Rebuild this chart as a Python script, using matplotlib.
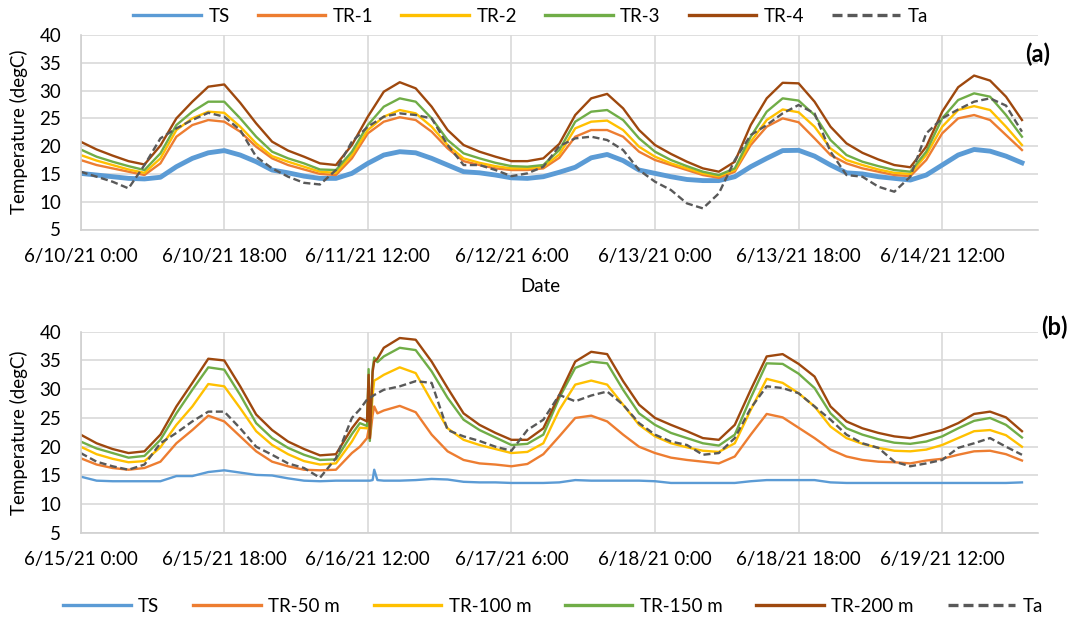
import matplotlib.pyplot as plt
from matplotlib.lines import Line2D

plt.rcParams['font.family'] = ['Lato', 'DejaVu Sans']

# ---- panel (a): 6/10/21 0:00 .. 6/15/21 0:00, hours since start ----
hours_a = list(range(0, 120, 2))

ts_a = [15.1, 14.8, 14.5, 14.2, 14.1, 14.4, 16.3, 17.8, 18.8, 19.2, 18.4, 17.2, 15.7, 15.2, 14.6, 14.2,
        14.2, 15.1, 16.9, 18.4, 19.0, 18.8, 17.8, 16.6, 15.4, 15.2, 14.8, 14.3, 14.2, 14.5, 15.3,
        16.2, 17.9, 18.5, 17.4, 15.7, 15.1, 14.5, 14.0, 13.8, 13.8, 14.5, 16.3, 17.8, 19.2, 19.25,
        18.2, 16.6, 15.2, 15.0, 14.5, 14.2, 13.9, 14.8, 16.6, 18.4, 19.4, 19.1, 18.2, 17.0]
tr1_a = [17.5, 16.6, 16.0, 15.4, 14.8, 16.9, 21.7, 23.8, 24.7, 24.4, 22.6, 19.9, 17.8, 16.6, 15.8, 15.0,
         14.8, 17.8, 22.3, 24.4, 25.2, 24.7, 22.6, 19.6, 17.3, 16.6, 16.0, 15.7, 15.7, 16.0, 17.9,
         21.7, 22.9, 22.9, 21.7, 19.0, 17.5, 16.6, 15.7, 14.8, 14.3, 15.4, 20.2, 23.5, 25.0, 24.3,
         21.4, 18.4, 16.9, 16.0, 15.4, 14.8, 14.6, 17.5, 22.3, 25.0, 25.6, 24.7, 22.0, 19.3]
tr2_a = [18.4, 17.4, 16.6, 15.8, 15.2, 17.8, 22.9, 25.0, 26.2, 26.0, 23.5, 20.5, 18.2, 17.2, 16.3, 15.4,
         15.2, 18.4, 22.9, 25.3, 26.5, 25.9, 23.5, 20.2, 17.8, 17.0, 16.4, 16.0, 16.0, 16.3, 18.5,
         23.2, 24.4, 24.6, 22.9, 19.9, 18.1, 16.9, 16.0, 15.1, 14.6, 15.7, 20.8, 24.7, 26.6, 26.1,
         23.5, 19.6, 17.5, 16.6, 15.8, 15.2, 15.0, 18.4, 23.5, 26.5, 27.2, 26.5, 23.5, 20.2]
tr3_a = [19.4, 18.1, 17.2, 16.4, 15.7, 18.7, 23.8, 26.2, 28.0, 28.0, 25.0, 21.7, 19.0, 17.8, 16.9, 15.8,
         15.7, 19.0, 23.8, 27.1, 28.6, 28.0, 25.0, 21.1, 18.7, 17.8, 17.0, 16.4, 16.3, 16.6, 19.3,
         24.4, 26.2, 26.5, 24.7, 21.4, 19.0, 17.5, 16.4, 15.4, 14.8, 16.0, 21.7, 26.2, 28.6, 28.2,
         25.6, 21.1, 18.4, 17.2, 16.4, 15.7, 15.4, 19.0, 25.0, 28.3, 29.5, 28.9, 25.6, 21.7]
tr4_a = [20.8, 19.4, 18.3, 17.3, 16.7, 20.1, 25.0, 28.0, 30.7, 31.1, 27.8, 24.1, 20.8, 19.2, 18.1, 16.9,
         16.6, 20.2, 25.3, 29.8, 31.5, 30.4, 27.1, 22.9, 20.2, 19.0, 18.1, 17.3, 17.3, 17.8, 20.4,
         25.6, 28.6, 29.4, 26.8, 22.9, 20.2, 18.6, 17.2, 16.0, 15.4, 17.2, 23.8, 28.6, 31.4, 31.3,
         28.0, 23.5, 20.5, 18.8, 17.6, 16.6, 16.2, 19.9, 26.2, 30.6, 32.7, 31.8, 28.9, 24.7]
ta_a = [15.4, 14.5, 13.6, 12.4, 16.6, 21.4, 23.2, 24.7, 26.0, 25.3, 22.9, 18.1, 16.0, 14.5, 13.4, 13.1,
        15.7, 20.8, 23.5, 25.3, 25.9, 25.6, 25.0, 20.2, 16.6, 16.6, 15.7, 14.6, 15.1, 16.3, 20.0,
        21.4, 21.7, 21.1, 19.3, 15.7, 13.6, 12.1, 9.7, 8.8, 11.5, 17.5, 22.0, 23.8, 25.9, 27.4,
        25.9, 19.0, 14.8, 14.5, 12.7, 11.8, 14.5, 22.3, 25.0, 26.6, 28.0, 28.6, 27.3, 22.6]

# ---- panel (b): 6/15/21 0:00 .. 6/20/21 0:00 ----
hours_b = [0, 2, 4, 6, 8, 10, 12, 14, 16, 18, 20, 22, 24, 26, 28, 30, 32, 34,
           35, 35.9, 36.1, 36.25, 36.6, 36.8, 37.2,
           38, 40, 42, 44, 46, 48, 50, 52, 54, 56, 58,
           60, 62, 64, 66, 68, 70, 72, 74, 76, 78,
           80, 82, 84, 86, 88, 90, 92, 94, 96, 98,
           100, 102, 104, 106, 108, 110, 112, 114, 116, 118]

ts_b = [14.8, 14.1, 14.0, 14.0, 14.0, 14.0, 14.9, 14.9, 15.6, 15.9, 15.5, 15.1, 15.0, 14.5, 14.1, 14.0, 14.1, 14.1,
        14.1, 14.1, 14.1, 14.1, 14.2, 16.0, 14.2,
        14.1, 14.1, 14.2, 14.4, 14.3, 13.9, 13.8, 13.8, 13.7, 13.7, 13.7,
        13.8, 14.2, 14.1, 14.1, 14.1, 14.1, 14.0, 13.7, 13.7, 13.7,
        13.7, 13.7, 14.0, 14.2, 14.2, 14.2, 14.2, 13.8, 13.7, 13.7,
        13.7, 13.7, 13.7, 13.7, 13.7, 13.7, 13.7, 13.7, 13.7, 13.8]
tr50_b = [18.0, 16.9, 16.3, 16.0, 16.3, 17.4, 20.6, 22.9, 25.4, 24.4, 21.8, 19.2, 17.4, 16.6, 16.0, 15.9, 16.0, 18.9,
          20.0, 21.5, 23.0, 21.3, 25.5, 27.0, 25.8,
          26.3, 27.1, 26.0, 22.1, 19.2, 17.7, 17.1, 16.9, 16.6, 17.0, 18.7,
          21.8, 25.0, 25.4, 24.4, 22.1, 20.0, 18.9, 18.1, 17.7, 17.4,
          17.1, 18.3, 22.1, 25.7, 25.1, 23.3, 21.5, 19.5, 18.3, 17.7,
          17.4, 17.3, 17.1, 17.6, 17.9, 18.6, 19.2, 19.3, 18.7, 17.6]
tr100_b = [20.0, 18.7, 17.9, 17.3, 17.5, 19.9, 23.8, 27.0, 30.9, 30.5, 26.7, 22.7, 20.3, 18.7, 17.5, 16.9, 17.1, 20.9,
           23.3, 23.2, 29.5, 22.0, 29.0, 31.5, 31.8,
           32.5, 33.8, 32.8, 27.9, 23.2, 21.2, 20.3, 19.6, 18.9, 19.1, 20.6,
           26.4, 30.8, 31.5, 30.8, 27.3, 23.8, 21.8, 20.6, 19.9, 19.3,
           19.1, 20.6, 26.4, 31.8, 31.1, 29.3, 27.0, 23.5, 21.5, 20.5,
           19.8, 19.3, 19.2, 19.5, 20.3, 21.5, 22.7, 22.9, 22.0, 20.0]
tr150_b = [20.9, 19.7, 18.9, 18.1, 18.4, 21.2, 25.8, 29.9, 33.8, 33.4, 29.0, 24.1, 21.5, 19.8, 18.6, 17.7, 17.8, 22.2,
           24.1, 23.6, 33.5, 21.0, 33.5, 35.5, 34.7,
           35.7, 37.2, 36.8, 33.1, 28.5, 24.7, 22.9, 21.6, 20.3, 20.5, 22.1,
           28.5, 33.7, 34.8, 34.5, 29.9, 25.8, 23.8, 22.4, 21.5, 20.6,
           20.2, 22.1, 28.5, 34.5, 34.4, 32.7, 30.2, 25.8, 23.2, 22.1,
           21.3, 20.7, 20.5, 20.9, 21.8, 23.2, 24.5, 25.0, 23.8, 21.6]
tr200_b = [22.1, 20.6, 19.6, 18.9, 19.2, 22.1, 27.0, 31.1, 35.3, 35.0, 30.5, 25.6, 22.9, 20.9, 19.6, 18.5, 18.7, 23.2,
           25.0, 24.4, 32.5, 21.5, 33.0, 34.8, 35.3,
           37.2, 38.9, 38.6, 34.8, 30.2, 25.8, 23.8, 22.4, 21.2, 21.2, 23.2,
           29.0, 34.8, 36.5, 36.1, 31.4, 27.3, 25.0, 23.8, 22.7, 21.5,
           21.2, 23.8, 29.9, 35.7, 36.1, 34.4, 32.2, 27.0, 24.4, 23.2,
           22.4, 21.8, 21.5, 22.2, 22.9, 24.1, 25.7, 26.1, 25.1, 22.7]
ta_b = [18.9, 17.4, 16.6, 16.0, 16.9, 20.6, 22.4, 24.4, 26.1, 26.1, 23.2, 20.0, 18.6, 17.1, 16.3, 14.6, 18.0, 25.0,
        26.5, 28.2, 28.3, 28.5, 28.8, 29.0, 29.3,
        29.9, 30.5, 31.4, 31.1, 22.9, 21.8, 21.0, 20.0, 19.3, 22.9, 24.7,
        29.0, 27.9, 28.9, 29.6, 27.3, 24.1, 22.1, 20.9, 20.3, 18.6,
        18.9, 21.5, 26.7, 30.5, 30.2, 29.3, 27.0, 24.7, 22.1, 20.6,
        19.8, 17.4, 16.6, 17.1, 17.7, 19.8, 20.6, 21.5, 20.0, 18.6]

tick_hours = [0, 18, 36, 54, 72, 90, 108]
ticklabels_a = ['6/10/21 0:00', '6/10/21 18:00', '6/11/21 12:00', '6/12/21 6:00',
                '6/13/21 0:00', '6/13/21 18:00', '6/14/21 12:00']
ticklabels_b = ['6/15/21 0:00', '6/15/21 18:00', '6/16/21 12:00', '6/17/21 6:00',
                '6/18/21 0:00', '6/18/21 18:00', '6/19/21 12:00']
names_a = ['TS', 'TR-1', 'TR-2', 'TR-3', 'TR-4', 'Ta']
names_b = ['TS', 'TR-50 m', 'TR-100 m', 'TR-150 m', 'TR-200 m', 'Ta']
colors = ['#5B9BD5', '#ED7D31', '#FFC000', '#70AD47', '#9E480E', '#595959']


def style_axes(ax, labels):
    ax.set_xlim(0, 120)
    ax.set_ylim(5, 40)
    ax.set_xticks(tick_hours)
    ax.set_xticklabels(labels)
    ax.set_yticks(range(5, 41, 5))
    ax.grid(color='#D9D9D9', lw=1.2)
    ax.set_axisbelow(True)
    ax.spines['top'].set_visible(False)
    ax.spines['right'].set_visible(False)
    ax.spines['left'].set_color('#D0D0D0')
    ax.spines['bottom'].set_color('#D0D0D0')
    ax.spines['left'].set_linewidth(1.2)
    ax.spines['bottom'].set_linewidth(1.2)
    ax.tick_params(length=0, labelsize=13.5, colors='#000000')
    ax.tick_params(axis='y', pad=14)
    ax.tick_params(axis='x', pad=13)


fig = plt.figure(figsize=(10.74, 6.25), dpi=100)
ax1 = fig.add_axes([0.0751, 0.6328, 0.8913, 0.3112])
ax2 = fig.add_axes([0.0751, 0.1472, 0.8913, 0.3221])

series_a = [ts_a, tr1_a, tr2_a, tr3_a, tr4_a, ta_a]
series_b = [ts_b, tr50_b, tr100_b, tr150_b, tr200_b, ta_b]

for i, (vals, name) in enumerate(zip(series_a, names_a)):
    if name == 'Ta':
        ax1.plot(hours_a, vals, color=colors[i], lw=1.7, ls=(0, (3, 1.5)), label=name)
    else:
        ax1.plot(hours_a, vals, color=colors[i], lw=3.5 if name == 'TS' else 1.7, label=name)

for i, (vals, name) in enumerate(zip(series_b, names_b)):
    if name == 'Ta':
        ax2.plot(hours_b, vals, color=colors[i], lw=1.7, ls=(0, (3, 1.5)), label=name)
    else:
        ax2.plot(hours_b, vals, color=colors[i], lw=1.7, label=name)

style_axes(ax1, ticklabels_a)
style_axes(ax2, ticklabels_b)

fig.text(0.503, 0.542, 'Date', ha='center', va='center', fontsize=13.5)
fig.text(0.018, 0.789, 'Temperature (degC)', rotation=90, ha='center', va='center', fontsize=13.5)
fig.text(0.018, 0.308, 'Temperature (degC)', rotation=90, ha='center', va='center', fontsize=13.5)
fig.text(0.966, 0.913, '(a)', ha='center', va='center', fontsize=17, fontweight='bold')
fig.text(0.982, 0.477, '(b)', ha='center', va='center', fontsize=17, fontweight='bold')

handles_a = [Line2D([], [], color=colors[i], lw=2.4, ls=(0, (3, 1.5)) if n == 'Ta' else '-')
             for i, n in enumerate(names_a)]
handles_b = [Line2D([], [], color=colors[i], lw=2.4, ls=(0, (3, 1.5)) if n == 'Ta' else '-')
             for i, n in enumerate(names_b)]
fig.legend(handles_a, names_a, loc='center', bbox_to_anchor=(0.494, 0.974), ncol=6,
           frameon=False, fontsize=13.5, handlelength=3.6, handletextpad=0.4, columnspacing=1.5)
fig.legend(handles_b, names_b, loc='center', bbox_to_anchor=(0.515, 0.03), ncol=6,
           frameon=False, fontsize=13.5, handlelength=3.6, handletextpad=0.4, columnspacing=1.8)

fig.savefig('out.png', dpi=100)
